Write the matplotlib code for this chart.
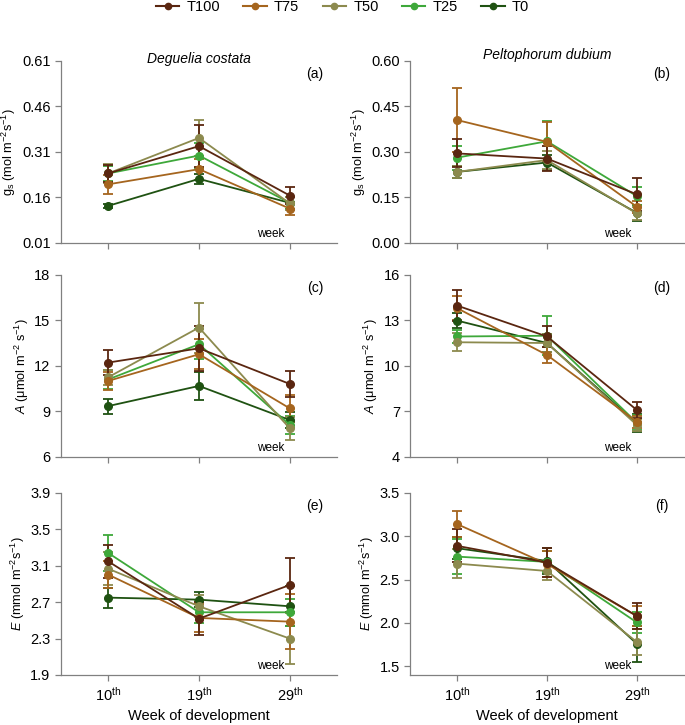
import matplotlib
matplotlib.use("Agg")
import matplotlib.pyplot as plt
from matplotlib.lines import Line2D
import numpy as np

plt.rcParams['font.family'] = ['Liberation Sans', 'DejaVu Sans']
plt.rcParams['mathtext.fontset'] = 'custom'
plt.rcParams['mathtext.rm'] = 'Liberation Sans'
plt.rcParams['mathtext.it'] = 'Liberation Sans:italic'
plt.rcParams['mathtext.default'] = 'regular'

treatments = ['T100', 'T75', 'T50', 'T25', 'T0']
colors = ['#5a2610', '#a5651e', '#8c8a4e', '#3ea83a', '#1f5212']
weeks = ['10$^{th}$', '19$^{th}$', '29$^{th}$']

# (a) gs, Deguelia costata
gs_dc = [[0.239, 0.329, 0.166],
         [0.203, 0.253, 0.123],
         [0.239, 0.356, 0.140],
         [0.239, 0.298, 0.142],
         [0.132, 0.221, 0.142]]
gs_dc_err = [[0.027, 0.070, 0.027],
             [0.031, 0.035, 0.022],
             [0.030, 0.058, 0.020],
             [0.025, 0.040, 0.020],
             [0.006, 0.017, 0.020]]

# (b) gs, Peltophorum dubium
gs_pd = [[0.295, 0.278, 0.160],
         [0.405, 0.333, 0.119],
         [0.234, 0.273, 0.097],
         [0.281, 0.335, 0.154],
         [0.234, 0.265, 0.099]]
gs_pd_err = [[0.046, 0.040, 0.055],
             [0.105, 0.066, 0.020],
             [0.020, 0.030, 0.020],
             [0.040, 0.066, 0.030],
             [0.020, 0.025, 0.027]]

# (c) A, Deguelia costata
a_dc = [[12.21, 13.15, 10.80],
        [11.00, 12.76, 9.19],
        [11.24, 14.52, 7.87],
        [11.10, 13.42, 8.10],
        [9.34, 10.67, 8.42]]
a_dc_err = [[0.85, 1.50, 0.85],
            [0.60, 1.00, 0.90],
            [0.50, 1.65, 0.77],
            [0.60, 1.00, 0.60],
            [0.50, 0.90, 0.50]]

# (d) A, Peltophorum dubium
a_pd = [[13.97, 11.93, 7.08],
        [13.80, 10.71, 6.31],
        [11.55, 11.50, 6.09],
        [11.93, 11.98, 6.24],
        [12.98, 11.50, 6.20]]
a_pd_err = [[1.00, 0.70, 0.55],
            [0.80, 0.55, 0.40],
            [0.60, 0.60, 0.40],
            [0.40, 1.27, 0.50],
            [0.50, 0.60, 0.60]]

# (e) E, Deguelia costata
e_dc = [[3.149, 2.519, 2.889],
        [3.003, 2.527, 2.486],
        [3.068, 2.655, 2.300],
        [3.241, 2.589, 2.589],
        [2.750, 2.728, 2.655]]
e_dc_err = [[0.18, 0.18, 0.30],
            [0.15, 0.15, 0.30],
            [0.18, 0.12, 0.28],
            [0.20, 0.12, 0.15],
            [0.11, 0.085, 0.22]]

# (f) E, Peltophorum dubium
e_pd = [[2.890, 2.697, 2.080],
        [3.141, 2.680, 2.080],
        [2.685, 2.600, 1.780],
        [2.766, 2.705, 2.006],
        [2.863, 2.716, 1.759]]
e_pd_err = [[0.19, 0.17, 0.15],
            [0.15, 0.15, 0.12],
            [0.17, 0.10, 0.15],
            [0.20, 0.12, 0.12],
            [0.13, 0.15, 0.21]]

panels = [
    (gs_dc, gs_dc_err, '(a)', 'g$_s$ (mol m$^{-2}$s$^{-1}$)', [0.01, 0.16, 0.31, 0.46, 0.61], (0.01, 0.61), 'Deguelia costata'),
    (gs_pd, gs_pd_err, '(b)', 'g$_s$ (mol m$^{-2}$s$^{-1}$)', [0.00, 0.15, 0.30, 0.45, 0.60], (0.0, 0.60), 'Peltophorum dubium'),
    (a_dc, a_dc_err, '(c)', '$\\it{A}$ ($\\mu$mol m$^{-2}$ s$^{-1}$)', [6, 9, 12, 15, 18], (6, 18), None),
    (a_pd, a_pd_err, '(d)', '$\\it{A}$ ($\\mu$mol m$^{-2}$ s$^{-1}$)', [4, 7, 10, 13, 16], (4, 16), None),
    (e_dc, e_dc_err, '(e)', '$\\it{E}$ (mmol m$^{-2}$s$^{-1}$)', [1.9, 2.3, 2.7, 3.1, 3.5, 3.9], (1.9, 3.9), None),
    (e_pd, e_pd_err, '(f)', '$\\it{E}$ (mmol m$^{-2}$s$^{-1}$)', [1.5, 2.0, 2.5, 3.0, 3.5], (1.4, 3.5), None),
]
tick_fmt = ['{:.2f}', '{:.2f}', '{:.0f}', '{:.0f}', '{:.1f}', '{:.1f}']

fig = plt.figure(figsize=(6.85, 7.25), dpi=100)
lefts = [0.089, 0.599]
widths = [0.403, 0.399]
bottoms = [0.665, 0.370, 0.069]
height = 0.251
axis_gray = '#808080'

x = np.arange(len(weeks))
for i, (vals, errs, tag, ylab, yticks, ylim, title) in enumerate(panels):
    row, col = divmod(i, 2)
    ax = fig.add_axes([lefts[col], bottoms[row], widths[col], height])
    # draw T0 first so T100 sits on top
    for k in reversed(range(len(treatments))):
        ax.errorbar(x, vals[k], yerr=errs[k], color=colors[k], marker='o',
                    markersize=5.5, linewidth=1.3, elinewidth=1.3,
                    capsize=3.5, capthick=1.3, clip_on=False)
    ax.set_xlim(-0.52, 2.52)
    ax.set_ylim(*ylim)
    ax.set_yticks(yticks)
    ax.set_yticklabels([tick_fmt[i].format(t) for t in yticks])
    ax.set_xticks(x)
    if row == 2:
        ax.set_xticklabels(weeks, fontsize=10.5)
        ax.set_xlabel('Week of development', fontsize=10.5, labelpad=4)
    else:
        ax.set_xticklabels([])
    ax.set_ylabel(ylab, fontsize=9.2, labelpad=2.5)
    for s in ['top', 'right']:
        ax.spines[s].set_visible(False)
    for s in ['left', 'bottom']:
        ax.spines[s].set_color(axis_gray)
        ax.spines[s].set_linewidth(0.9)
    ax.tick_params(colors=axis_gray, labelcolor='black', labelsize=10.5,
                   length=4, width=0.9)
    ax.text(0.92, 0.93, tag, transform=ax.transAxes, ha='center', va='center', fontsize=10)
    ax.text(0.76, 0.05, 'week', transform=ax.transAxes, ha='center', va='center', fontsize=8.5)
    if title:
        ax.text(0.5, 1.01 if col == 0 else 1.03, title, transform=ax.transAxes,
                ha='center', va='center', fontsize=10, style='italic')

handles = [Line2D([], [], color=c, marker='o', markersize=4.5, linewidth=1.5) for c in colors]
fig.legend(handles, treatments, loc='upper center', bbox_to_anchor=(0.5, 1.018),
           ncol=5, frameon=False, fontsize=10.5, handlelength=1.6,
           handletextpad=0.5, columnspacing=1.6)

fig.savefig('out.png', dpi=100)
